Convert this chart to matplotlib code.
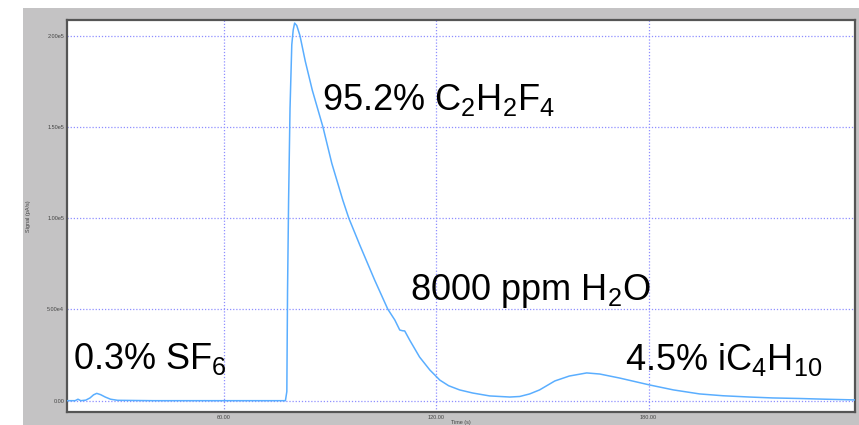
import matplotlib
matplotlib.use("Agg")
import matplotlib.pyplot as plt
from matplotlib.patches import Rectangle

plt.rcParams['font.family'] = ['Liberation Sans', 'DejaVu Sans']
plt.rcParams['mathtext.fontset'] = 'custom'
plt.rcParams['mathtext.rm'] = 'Liberation Sans'

# retention time (s) and signal (pA/s)
time_s = [15.7, 18.0, 18.8, 19.6, 21.0, 22.2, 23.2, 24.1, 25.2, 26.5, 28.0, 30.0,
          40.0, 60.0, 77.4, 77.8, 78.0, 78.3, 78.7, 79.2, 79.6, 80.0, 80.6, 81.5,
          83.0, 85.0, 88.0, 90.5, 93.6, 95.3, 98.4, 102.6, 106.3, 108.3, 109.7,
          110.5, 111.1, 112.5, 115.3, 118.2, 120.1, 121.0, 123.5, 126.6, 130.3,
          135.1, 140.8, 143.6, 146.4, 149.2, 153.5, 157.6, 162.5, 166.2, 171.8,
          180.3, 187.0, 194.4, 201.0, 208.5, 215.0, 222.6, 230.0, 238.5]
signal = [0, 0, 800, 0, 300, 1500, 3200, 4000, 3300, 2000, 800, 200,
          0, 0, 0, 5000, 60000, 110000, 160000, 195000, 203000, 206800, 205500, 200000,
          186000, 170000, 149900, 130000, 109900, 100000, 85300, 66100, 50200, 44200, 38700,
          38300, 38200, 33200, 23900, 16800, 13100, 11300, 8200, 5900, 4200,
          2600, 2000, 2300, 3700, 5900, 10800, 13500, 15200, 14600, 12400,
          8600, 5900, 3700, 2700, 2000, 1500, 1200, 800, 400]

y_ticks = [0, 50000, 100000, 150000, 200000]
y_tick_labels = ['0.00', '5.00e4', '1.00e5', '1.50e5', '2.00e5']
x_ticks = [60, 120, 180]
x_tick_labels = ['60.00', '120.00', '180.00']

labels = [
    (87.7, 159200, r'95.2% C$\mathregular{_2}$H$\mathregular{_2}$F$\mathregular{_4}$'),
    (112.5, 55100, r'8000 ppm H$\mathregular{_2}$O'),
    (17.4, 17500, r'0.3% SF$\mathregular{_6}$'),
    (173.2, 17000, r'4.5% iC$\mathregular{_4}$H$\mathregular{_{10}}$'),
]

fig = plt.figure(figsize=(8.59, 4.25), dpi=100, facecolor='white')
bg = Rectangle((23 / 859, 0), 1, (425 - 8) / 425, transform=fig.transFigure,
               facecolor='#c4c3c4', edgecolor='none')
bg.set_zorder(-10)
fig.add_artist(bg)

ax = fig.add_axes([67 / 859, 13 / 425, (855 - 67) / 859, (412 - 20) / 425])
ax.set_zorder(5)
ax.set_facecolor('white')
ax.plot(time_s, signal, color='#5aaeff', lw=1.1, zorder=3)

ax.set_xlim(15.7, 238.3)
ax.set_ylim(-6200, 208500)
ax.set_xticks(x_ticks)
ax.set_xticklabels(x_tick_labels)
ax.set_yticks(y_ticks)
ax.set_yticklabels(y_tick_labels)
ax.tick_params(axis='both', length=0, labelsize=4, colors='#444444', pad=2)
ax.grid(True, color='#8f8fff', linestyle=(0, (1, 1.5)), lw=0.9, zorder=1)
for s in ax.spines.values():
    s.set_color('#555555')
    s.set_linewidth(1.6)

ax.set_ylabel('Signal (pA/s)', fontsize=4, color='#444444', labelpad=12)
ax.set_xlabel('Time (s)', fontsize=4, color='#444444', labelpad=0.5)

for x, y, t in labels:
    ax.text(x, y, t, fontsize=26, color='black', ha='left', va='baseline', zorder=4)

fig.savefig('out.png', dpi=100, facecolor=fig.get_facecolor())
